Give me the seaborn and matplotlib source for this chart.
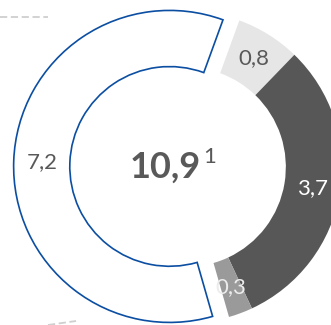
import matplotlib
matplotlib.use("Agg")
import matplotlib.pyplot as plt
import matplotlib.lines as mlines
import seaborn as sns

# Segment values (clockwise from the top)
values = [0.8, 3.7, 0.3, 7.2]
colors = ["#e6e6e6", "#575757", "#9a9a9a", "white"]
label_colors = ["#595959", "white", "#ececec", "#595959"]
explode = [0, 0, 0, 0.105]
total_label = "10,9"
footnote = "1"

sns.set_theme(style="white")
plt.rcParams["font.family"] = ["Lato", "DejaVu Sans"]

fig = plt.figure(figsize=(3.31, 3.25), dpi=100)
ax = fig.add_axes([0, 0, 1, 1])

wedges, _, autotexts = ax.pie(
    values,
    colors=colors,
    explode=explode,
    startangle=70,
    counterclock=False,
    radius=1.0,
    wedgeprops=dict(width=0.36, linewidth=0),
    autopct=lambda p: f"{p * sum(values) / 100:.1f}".replace(".", ","),
    pctdistance=0.82,
    textprops=dict(fontsize=16),
)

# outlined (exploded) segment
wedges[3].set_edgecolor("#0b4ea2")
wedges[3].set_linewidth(1.2)

for t, c in zip(autotexts, label_colors):
    t.set_color(c)

# centre total with footnote marker
ax.text(-0.13, 0.0, total_label, ha="center", va="center",
        fontsize=26, fontweight="bold", color="#595959")
ax.text(0.15, 0.065, footnote, ha="center", va="center",
        fontsize=16, color="#595959")

# view cropped like the original
ax.set_xlim(-186 / 156, (331 - 186) / 156)
ax.set_ylim(-158 / 156, 167 / 156)
ax.set_aspect("auto")
ax.axis("off")

# faint leader lines at the edges
fig.add_artist(mlines.Line2D([0, 48 / 331], [1 - 17 / 325, 1 - 17 / 325],
                             color="#cfcfcf", lw=1.3, ls=(0, (4, 2))))
fig.add_artist(mlines.Line2D([48 / 331, 76 / 331], [1 - 325 / 325, 1 - 321 / 325],
                             color="#cfcfcf", lw=1.3, ls=(0, (4, 2))))

fig.savefig("out.png", dpi=100)
